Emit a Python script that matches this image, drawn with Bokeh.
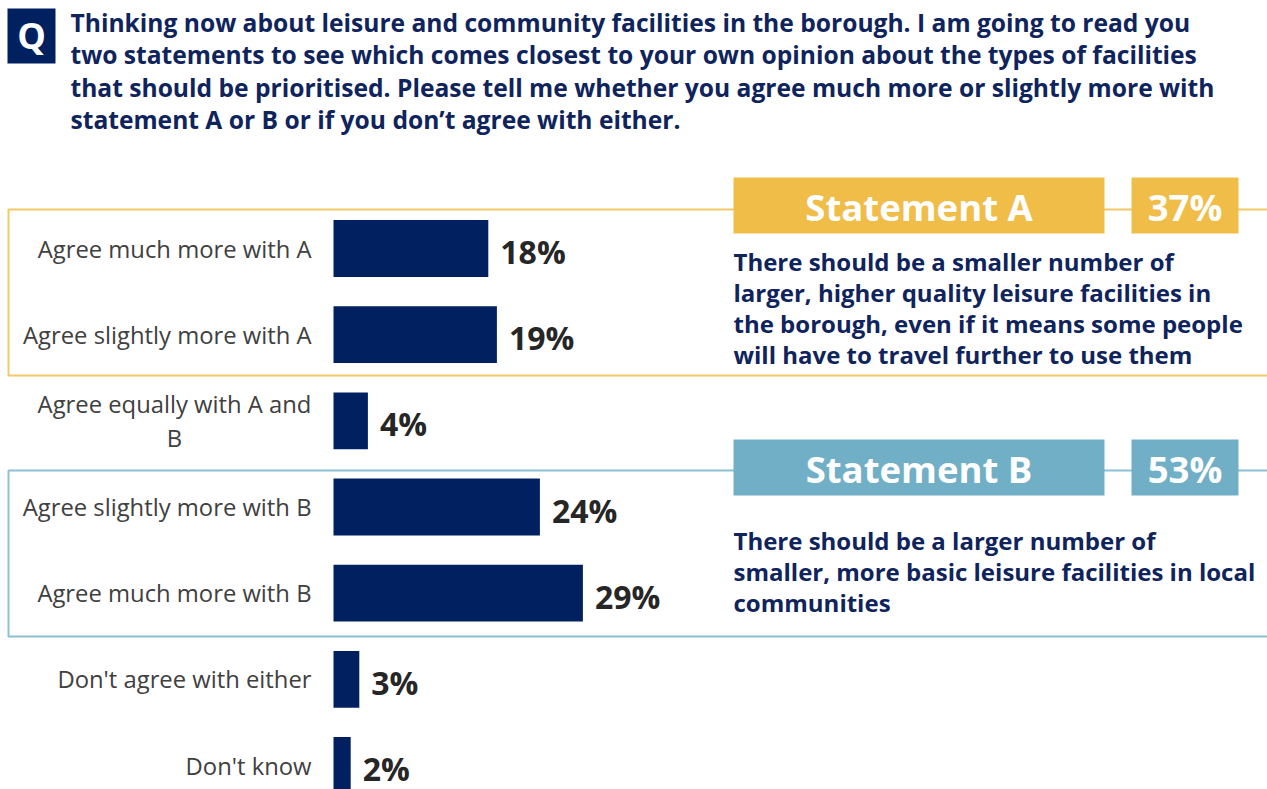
from bokeh.plotting import figure
from bokeh.models import Range1d, ColumnDataSource
from bokeh.core.properties import value
from bokeh.embed import file_html
from bokeh.resources import INLINE

# ---------------- data ----------------
categories = [
    "Agree much more with A",
    "Agree slightly more with A",
    "Agree equally with A and\nB",
    "Agree slightly more with B",
    "Agree much more with B",
    "Don't agree with either",
    "Don't know",
]
percentages = [18, 19, 4, 24, 29, 3, 2]

statement_names = ["Statement A", "Statement B"]
statement_totals = [37, 53]
statement_texts = [
    ["There should be a smaller number of",
     "larger, higher quality leisure facilities in",
     "the borough, even if it means some people",
     "will have to travel further to use them"],
    ["There should be a larger number of",
     "smaller, more basic leisure facilities in local",
     "communities"],
]
question_lines = [
    "Thinking now about leisure and community facilities in the borough. I am going to read you",
    "two statements to see which comes closest to your own opinion about the types of facilities",
    "that should be prioritised. Please tell me whether you agree much more or slightly more with",
    "statement A or B or if you don\u2019t agree with either.",
]

# ---------------- layout ----------------
W, H = 1267, 789
NAVY = "#002060"
TXT_NAVY = "#0f235c"
GOLD_FILL = "#F0BD48"
GOLD_LINE = "#F3C866"
BLUE_FILL = "#71AFC7"
BLUE_LINE = "#8CC0D4"
FONT = value("Open Sans")

ZERO_PX = 333.0      # pixel position of 0 %
PX_PER_PCT = 8.6
ROW0_PX = 248.0      # pixel centre of first row
ROW_STEP = 86.17

p = figure(
    width=W, height=H, output_backend="svg", toolbar_location=None,
    x_range=Range1d(-ZERO_PX / PX_PER_PCT, (W - ZERO_PX) / PX_PER_PCT),
    y_range=Range1d((H - ROW0_PX) / ROW_STEP, -ROW0_PX / ROW_STEP),
    x_axis_location=None, y_axis_location=None,
    min_border=0, outline_line_color=None,
)
p.grid.visible = False
p.extra_x_ranges = {"px": Range1d(0, W)}
p.extra_y_ranges = {"py": Range1d(H, 0)}
PX = dict(x_range_name="px", y_range_name="py")

# ---------------- question header ----------------
p.quad(left=[7], right=[55], top=[8], bottom=[63], fill_color=NAVY, line_color=None, **PX)
p.text(x=[31], y=[35], text=["Q"], text_font=FONT, text_font_style="bold",
       text_font_size="36px", text_color="white", text_align="center",
       text_baseline="middle", **PX)
q_y = [22 + i * 32.4 for i in range(len(question_lines))]
p.text(x=[70] * len(question_lines), y=q_y, text=question_lines, text_font=FONT,
       text_font_style="bold", text_font_size="24.6px", text_color=TXT_NAVY,
       text_align="left", text_baseline="middle", **PX)

# ---------------- statement frames ----------------
frames = [
    dict(top=209, bottom=375, fill=GOLD_FILL, line=GOLD_LINE, box_top=177, box_bot=233,
         text_y0=261),
    dict(top=470, bottom=636, fill=BLUE_FILL, line=BLUE_LINE, box_top=439, box_bot=495,
         text_y0=540),
]
for i, fr in enumerate(frames):
    # outline (open on the right)
    p.line(x=[W + 5, 8, 8, W + 5], y=[fr["top"], fr["top"], fr["bottom"], fr["bottom"]],
           line_color=fr["line"], line_width=2, **PX)
    # name box and total box
    p.quad(left=[733, 1131], right=[1104, 1238], top=[fr["box_top"]] * 2,
           bottom=[fr["box_bot"]] * 2, fill_color=fr["fill"], line_color=None, **PX)
    mid = (fr["box_top"] + fr["box_bot"]) / 2 + 1
    p.text(x=[918.5, 1184.5], y=[mid, mid],
           text=[statement_names[i], f"{statement_totals[i]}%"], text_font=FONT,
           text_font_style="bold", text_font_size="36.5px", text_color="white",
           text_align="center", text_baseline="middle", **PX)
    lines = statement_texts[i]
    p.text(x=[733] * len(lines), y=[fr["text_y0"] + k * 31 for k in range(len(lines))],
           text=lines, text_font=FONT, text_font_style="bold", text_font_size="24px",
           text_color=TXT_NAVY, text_align="left", text_baseline="middle", **PX)

# ---------------- bars ----------------
idx = list(range(len(categories)))
src = ColumnDataSource(dict(
    y=idx, v=percentages, lab=[f"{v}%" for v in percentages],
))
p.hbar(y="y", left=0, right="v", height=0.66, fill_color=NAVY, line_color=None, source=src)
p.text(x="v", y="y", text="lab", source=src, x_offset=12, y_offset=3,
       text_font=FONT, text_font_style="bold", text_font_size="32px",
       text_color="#262626", text_align="left", text_baseline="middle")

# category labels
single = [(i, c) for i, c in enumerate(categories) if "\n" not in c]
multi = [(i, c) for i, c in enumerate(categories) if "\n" in c]
p.text(x=[311] * len(single), y=[i for i, _ in single], text=[c for _, c in single],
       x_range_name="px", text_font=FONT, text_font_size="23.8px", text_color="#404040",
       text_align="right", text_baseline="middle")
p.text(x=[174] * len(multi), y=[i for i, _ in multi], text=[c for _, c in multi],
       x_range_name="px", text_font=FONT, text_font_size="23.8px", text_color="#404040",
       text_align="center", text_baseline="middle", text_line_height=1.07)

open("out.html", "w").write(file_html(p, INLINE))
